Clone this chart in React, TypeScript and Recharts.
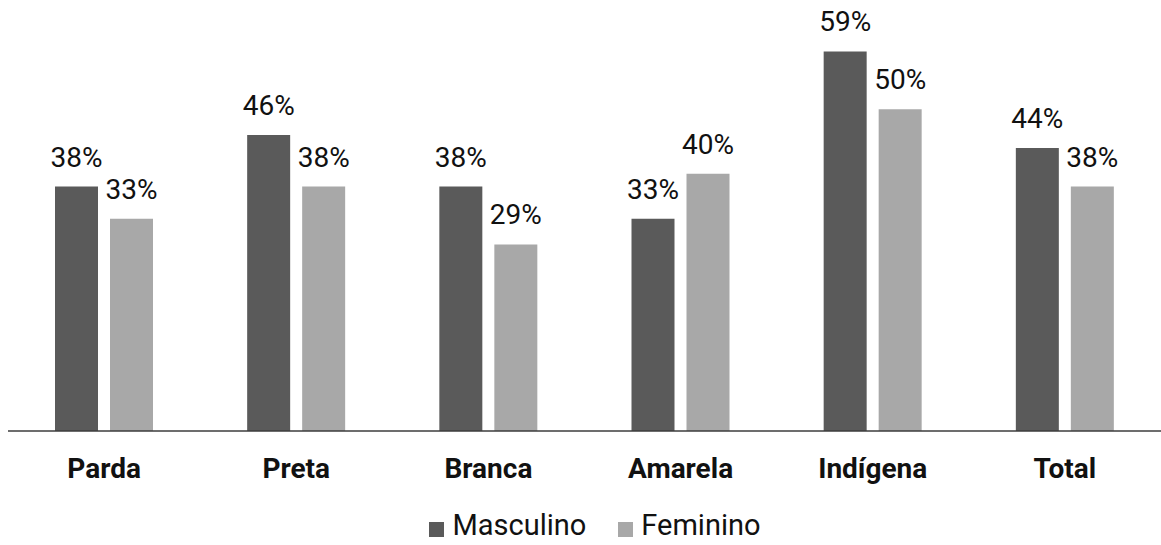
import React from "react";
import { BarChart, Bar, XAxis, YAxis, LabelList, Legend } from "recharts";

// Share by race/colour, split by sex (percent)
const categories = ["Parda", "Preta", "Branca", "Amarela", "Indígena", "Total"];
const masculino = [38, 46, 38, 33, 59, 44];
const feminino = [33, 38, 29, 40, 50, 38];

const seriesNames = { masculino: "Masculino", feminino: "Feminino" };
const colors = { masculino: "#5a5a5a", feminino: "#a8a8a8" };

const data = categories.map((name, i) => ({
  name,
  masculino: masculino[i],
  feminino: feminino[i],
}));

const FONT = "Roboto, 'Noto Sans', sans-serif";

const pct = (v: number) => `${v}%`;

function LegendContent() {
  const items = [
    { key: "masculino", label: seriesNames.masculino, color: colors.masculino },
    { key: "feminino", label: seriesNames.feminino, color: colors.feminino },
  ];
  return (
    <div
      style={{
        height: 54,
        display: "flex",
        justifyContent: "center",
        alignItems: "flex-end",
        paddingLeft: 21,
        boxSizing: "border-box",
        fontFamily: FONT,
        fontSize: 29,
        color: "#111",
      }}
    >
      {items.map((it, i) => (
        <div
          key={it.key}
          style={{
            display: "flex",
            alignItems: "center",
            marginLeft: i === 0 ? 0 : 32,
            height: 40,
          }}
        >
          <span
            style={{
              width: 15,
              height: 15,
              background: it.color,
              display: "inline-block",
              marginRight: 8,
              marginTop: 8,
            }}
          />
          <span style={{ lineHeight: "40px" }}>{it.label}</span>
        </div>
      ))}
    </div>
  );
}

export default function App() {
  return (
    <div style={{ position: "absolute", left: 0, top: 0, background: "#fff" }}>
      <BarChart
        width={1161}
        height={545}
        data={data}
        margin={{ top: 45, right: 0, left: 8, bottom: 0 }}
        barSize={43}
        barGap={12}
      >
        <XAxis
          dataKey="name"
          height={60}
          tickLine={false}
          tickSize={0}
          tickMargin={27}
          axisLine={{ stroke: "#3c3c3c", strokeWidth: 1.5 }}
          tick={{ fill: "#111", fontSize: 28, fontWeight: 700, fontFamily: FONT }}
          interval={0}
        />
        <YAxis hide domain={[0, 60]} />
        <Legend verticalAlign="bottom" content={<LegendContent />} />
        <Bar dataKey="masculino" name={seriesNames.masculino} fill={colors.masculino} isAnimationActive={false}>
          <LabelList
            dataKey="masculino"
            position="top"
            offset={20}
            formatter={pct}
            style={{ fill: "#111", fontSize: 28, fontFamily: FONT }}
          />
        </Bar>
        <Bar dataKey="feminino" name={seriesNames.feminino} fill={colors.feminino} isAnimationActive={false}>
          <LabelList
            dataKey="feminino"
            position="top"
            offset={20}
            formatter={pct}
            style={{ fill: "#111", fontSize: 28, fontFamily: FONT }}
          />
        </Bar>
      </BarChart>
    </div>
  );
}
